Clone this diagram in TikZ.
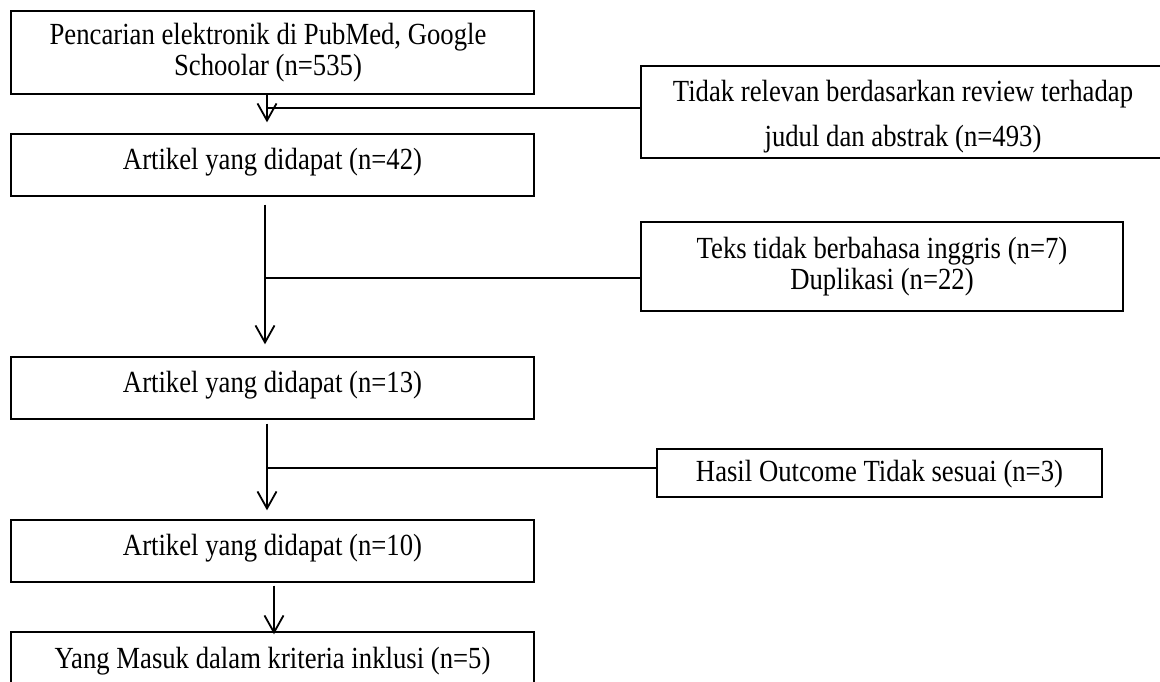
\documentclass[tikz,border=0pt]{standalone}
\usepackage{fontspec}
\usepackage{graphicx}
\setmainfont{Liberation Serif}
\usetikzlibrary{arrows.meta,calc}
\newcommand{\vs}[1]{\scalebox{1}[1.15]{#1}}
\begin{document}
\begin{tikzpicture}[x=1pt,y=-1pt,
  box/.style={draw=black,line width=1.4pt,inner sep=0pt,align=center,
    font=\fontsize{26.7}{31}\selectfont},
  one/.style={text height=14pt,text depth=6pt},
  flow/.style={line width=1.8pt,-{Straight Barb[length=17pt,width=19pt,line width=1.8pt]}},
  branch/.style={line width=2pt}]
\useasboundingbox (0,0) rectangle (1160,681);
% left column
\node[box,minimum width=523pt,minimum height=83pt] (b1) at (272.5,52.5)
  {\vs{Pencarian elektronik di PubMed, Google}\hspace*{9pt}\\\vs{Schoolar (n=535)}\hspace*{9pt}};
\node[box,one,minimum width=523pt,minimum height=62pt] (b2) at (272.5,165) {\vs{Artikel yang didapat (n=42)}};
\node[box,one,minimum width=523pt,minimum height=62pt] (b3) at (272.5,388) {\vs{Artikel yang didapat (n=13)}};
\node[box,one,minimum width=523pt,minimum height=62pt] (b4) at (272.5,551) {\vs{Artikel yang didapat (n=10)}};
\node[box,one,minimum width=523pt,minimum height=64pt] (b5) at (272.5,664) {\vs{Yang Masuk dalam kriteria inklusi (n=5)}};
% right column
\node[box,minimum width=524pt,minimum height=92pt,font=\fontsize{26.7}{45}\selectfont] (r1) at (903,112)
  {\rule{0pt}{30pt}\vs{Tidak relevan berdasarkan review terhadap}\\\vs{judul dan abstrak (n=493)}};
\node[box,minimum width=482pt,minimum height=89pt] (r2) at (882,266.5)
  {\vs{Teks tidak berbahasa inggris (n=7)}\\\vs{Duplikasi (n=22)}};
\node[box,text height=18pt,text depth=2pt,minimum width=445pt,minimum height=48pt] (r3) at (879.5,473) {\vs{Hasil Outcome Tidak sesuai (n=3)}};
% arrows
\draw[flow,shorten >=11pt] ([xshift=-5.5pt]b1.south) -- ([xshift=-5.5pt]b2.north);
\draw[flow,shorten <=8pt,shorten >=12pt] ([xshift=-7.5pt]b2.south) -- ([xshift=-7.5pt]b3.north);
\draw[flow,shorten <=4pt,shorten >=9pt] ([xshift=-5.5pt]b3.south) -- ([xshift=-5.5pt]b4.north);
\draw[flow,shorten <=3pt,shorten >=-3pt] ([xshift=1.5pt]b4.south) -- ([xshift=1.5pt]b5.north);
% branches
\coordinate (j1) at (267,108);
\coordinate (j2) at (265,278);
\coordinate (j3) at (267,468);
\draw[branch] (j1) -- (j1 -| r1.west);
\draw[branch] (j2) -- (j2 -| r2.west);
\draw[branch] (j3) -- (j3 -| r3.west);
\end{tikzpicture}
\end{document}
